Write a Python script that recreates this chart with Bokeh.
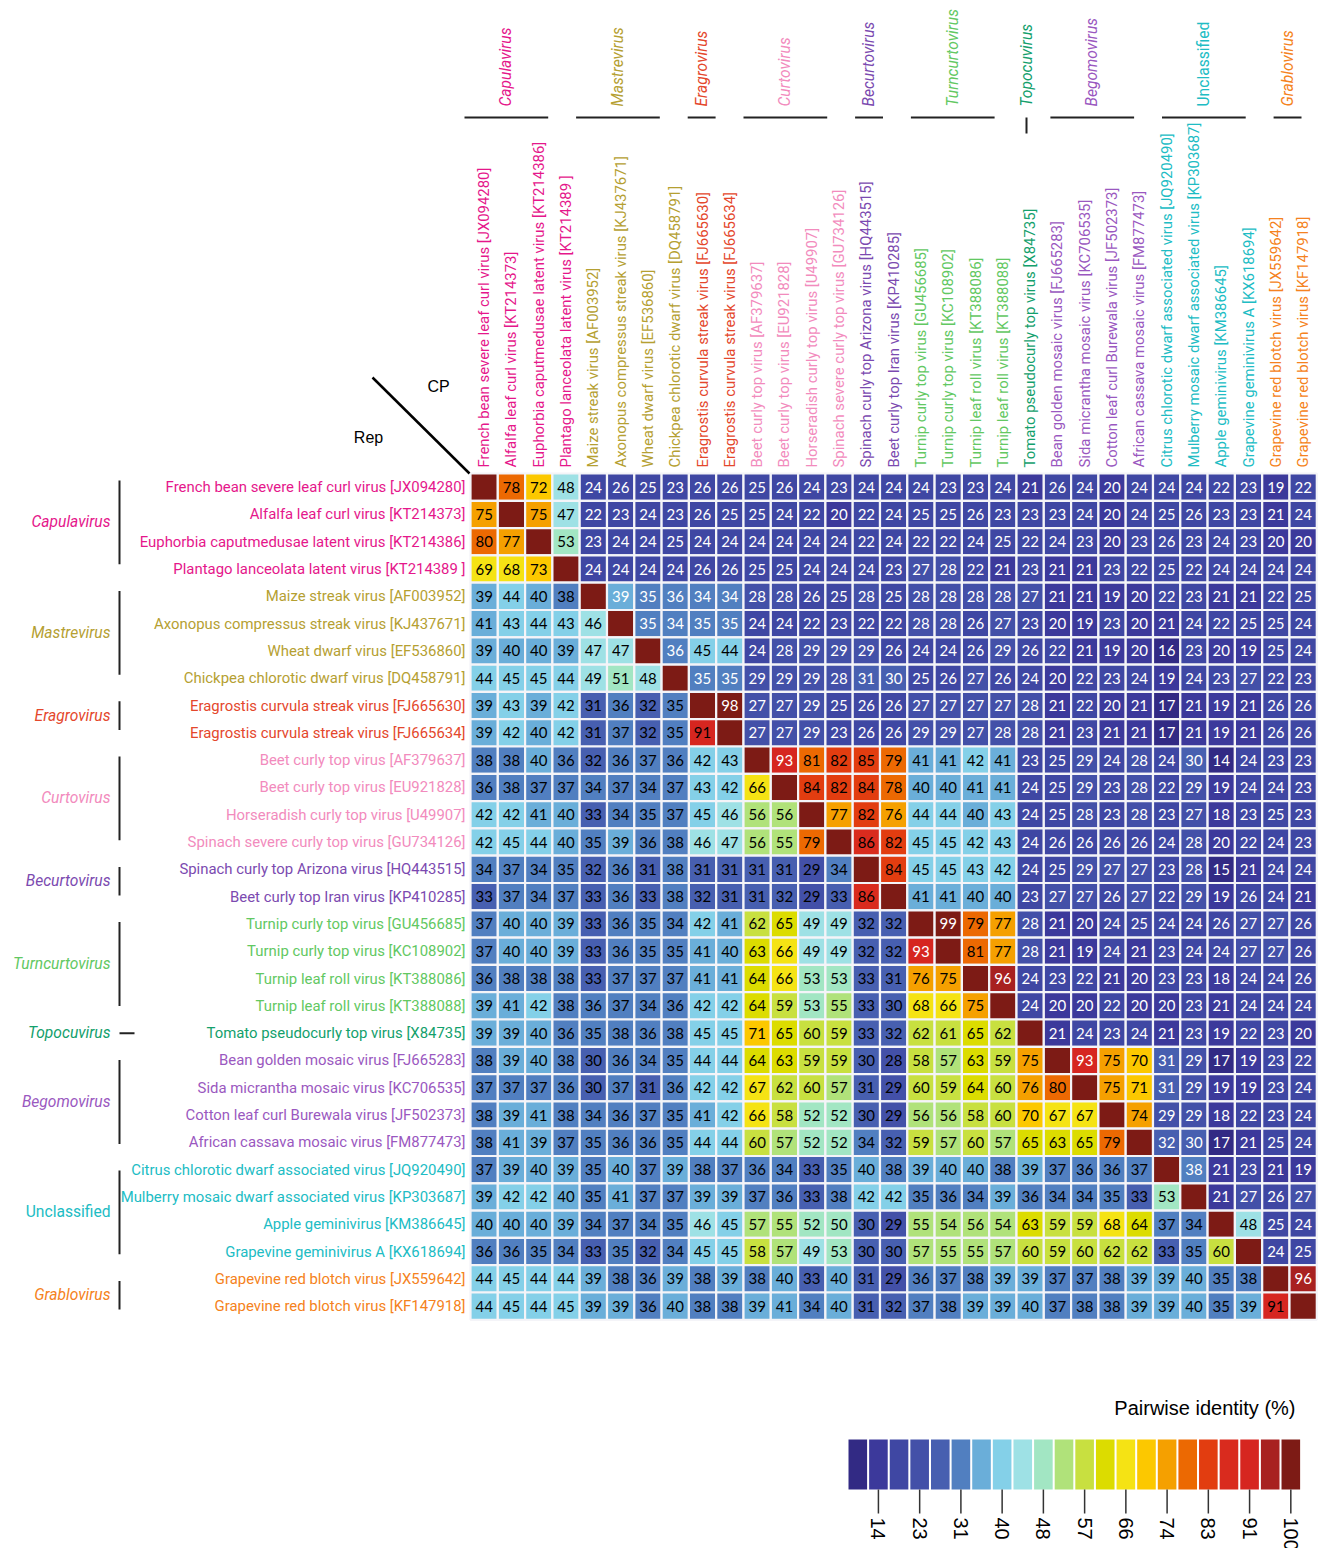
import math
from bokeh.plotting import figure
from bokeh.models import Range1d, ColumnDataSource
from bokeh.transform import linear_cmap
from bokeh.core.properties import value
from bokeh.embed import file_html
from bokeh.resources import INLINE

# ---------------- data ----------------
VIRUSES = [
    "French bean severe leaf curl virus [JX094280]",
    "Alfalfa leaf curl virus [KT214373]",
    "Euphorbia caputmedusae latent virus [KT214386]",
    "Plantago lanceolata latent virus [KT214389 ]",
    "Maize streak virus [AF003952]",
    "Axonopus compressus streak virus [KJ437671]",
    "Wheat dwarf virus [EF536860]",
    "Chickpea chlorotic dwarf virus [DQ458791]",
    "Eragrostis curvula streak virus [FJ665630]",
    "Eragrostis curvula streak virus [FJ665634]",
    "Beet curly top virus [AF379637]",
    "Beet curly top virus [EU921828]",
    "Horseradish curly top virus [U49907]",
    "Spinach severe curly top virus [GU734126]",
    "Spinach curly top Arizona virus [HQ443515]",
    "Beet curly top Iran virus [KP410285]",
    "Turnip curly top virus [GU456685]",
    "Turnip curly top virus [KC108902]",
    "Turnip leaf roll virus [KT388086]",
    "Turnip leaf roll virus [KT388088]",
    "Tomato pseudocurly top virus [X84735]",
    "Bean golden mosaic virus [FJ665283]",
    "Sida micrantha mosaic virus [KC706535]",
    "Cotton leaf curl Burewala virus [JF502373]",
    "African cassava mosaic virus [FM877473]",
    "Citrus chlorotic dwarf associated virus [JQ920490]",
    "Mulberry mosaic dwarf associated virus [KP303687]",
    "Apple geminivirus [KM386645]",
    "Grapevine geminivirus A [KX618694]",
    "Grapevine red blotch virus [JX559642]",
    "Grapevine red blotch virus [KF147918]",
]

GENERA = ["Capulavirus", "Mastrevirus", "Eragrovirus", "Curtovirus", "Becurtovirus",
          "Turncurtovirus", "Topocuvirus", "Begomovirus", "Unclassified", "Grablovirus"]
GENUS_FIRST = [0, 4, 8, 10, 14, 16, 20, 21, 25, 29]
GENUS_LAST = [3, 7, 9, 13, 15, 19, 20, 24, 28, 30]
GENUS_COLORS = ["#e5178b", "#b5a032", "#e4472c", "#f28bbd", "#7b4ab0",
                "#62c862", "#13a06c", "#9a58c0", "#20bcc4", "#f58220"]
GENUS_STYLE = ["italic"] * 8 + ["normal", "italic"]

# lower triangle = Rep identity, upper triangle = CP identity, diagonal = 100
IDENTITY = [
    [100, 78, 72, 48, 24, 26, 25, 23, 26, 26, 25, 26, 24, 23, 24, 24, 24, 23, 23, 24, 21, 26, 24, 20, 24, 24, 24, 22, 23, 19, 22],
    [75, 100, 75, 47, 22, 23, 24, 23, 26, 25, 25, 24, 22, 20, 22, 24, 25, 25, 26, 23, 23, 23, 24, 20, 24, 25, 26, 23, 23, 21, 24],
    [80, 77, 100, 53, 23, 24, 24, 25, 24, 24, 24, 24, 24, 24, 22, 24, 22, 22, 24, 25, 22, 24, 23, 20, 23, 26, 23, 24, 23, 20, 20],
    [69, 68, 73, 100, 24, 24, 24, 24, 26, 26, 25, 25, 24, 24, 24, 23, 27, 28, 22, 21, 23, 21, 21, 23, 22, 25, 22, 24, 24, 24, 24],
    [39, 44, 40, 38, 100, 39, 35, 36, 34, 34, 28, 28, 26, 25, 28, 25, 28, 28, 28, 28, 27, 21, 21, 19, 20, 22, 23, 21, 21, 22, 25],
    [41, 43, 44, 43, 46, 100, 35, 34, 35, 35, 24, 24, 22, 23, 22, 22, 28, 28, 26, 27, 23, 20, 19, 23, 20, 21, 24, 22, 25, 25, 24],
    [39, 40, 40, 39, 47, 47, 100, 36, 45, 44, 24, 28, 29, 29, 29, 26, 24, 24, 26, 29, 26, 22, 21, 19, 20, 16, 23, 20, 19, 25, 24],
    [44, 45, 45, 44, 49, 51, 48, 100, 35, 35, 29, 29, 29, 28, 31, 30, 25, 26, 27, 26, 24, 20, 22, 23, 24, 19, 24, 23, 27, 22, 23],
    [39, 43, 39, 42, 31, 36, 32, 35, 100, 98, 27, 27, 29, 25, 26, 26, 27, 27, 27, 27, 28, 21, 22, 20, 21, 17, 21, 19, 21, 26, 26],
    [39, 42, 40, 42, 31, 37, 32, 35, 91, 100, 27, 27, 29, 23, 26, 26, 29, 29, 27, 28, 28, 21, 23, 21, 21, 17, 21, 19, 21, 26, 26],
    [38, 38, 40, 36, 32, 36, 37, 36, 42, 43, 100, 93, 81, 82, 85, 79, 41, 41, 42, 41, 23, 25, 29, 24, 28, 24, 30, 14, 24, 23, 23],
    [36, 38, 37, 37, 34, 37, 34, 37, 43, 42, 66, 100, 84, 82, 84, 78, 40, 40, 41, 41, 24, 25, 29, 23, 28, 22, 29, 19, 24, 24, 23],
    [42, 42, 41, 40, 33, 34, 35, 37, 45, 46, 56, 56, 100, 77, 82, 76, 44, 44, 40, 43, 24, 25, 28, 23, 28, 23, 27, 18, 23, 25, 23],
    [42, 45, 44, 40, 35, 39, 36, 38, 46, 47, 56, 55, 79, 100, 86, 82, 45, 45, 42, 43, 24, 26, 26, 26, 26, 24, 28, 20, 22, 24, 23],
    [34, 37, 34, 35, 32, 36, 31, 38, 31, 31, 31, 31, 29, 34, 100, 84, 45, 45, 43, 42, 24, 25, 29, 27, 27, 23, 28, 15, 21, 24, 24],
    [33, 37, 34, 37, 33, 36, 33, 38, 32, 31, 31, 32, 29, 33, 86, 100, 41, 41, 40, 40, 23, 27, 27, 26, 27, 22, 29, 19, 26, 24, 21],
    [37, 40, 40, 39, 33, 36, 35, 34, 42, 41, 62, 65, 49, 49, 32, 32, 100, 99, 79, 77, 28, 21, 20, 24, 25, 24, 24, 26, 27, 27, 26],
    [37, 40, 40, 39, 33, 36, 35, 35, 41, 40, 63, 66, 49, 49, 32, 32, 93, 100, 81, 77, 28, 21, 19, 24, 21, 23, 24, 24, 27, 27, 26],
    [36, 38, 38, 38, 33, 37, 37, 37, 41, 41, 64, 66, 53, 53, 33, 31, 76, 75, 100, 96, 24, 23, 22, 21, 20, 23, 23, 18, 24, 24, 26],
    [39, 41, 42, 38, 36, 37, 34, 36, 42, 42, 64, 59, 53, 55, 33, 30, 68, 66, 75, 100, 24, 20, 20, 22, 20, 20, 23, 21, 24, 24, 24],
    [39, 39, 40, 36, 35, 38, 36, 38, 45, 45, 71, 65, 60, 59, 33, 32, 62, 61, 65, 62, 100, 21, 24, 23, 24, 21, 23, 19, 22, 23, 20],
    [38, 39, 40, 38, 30, 36, 34, 35, 44, 44, 64, 63, 59, 59, 30, 28, 58, 57, 63, 59, 75, 100, 93, 75, 70, 31, 29, 17, 19, 23, 22],
    [37, 37, 37, 36, 30, 37, 31, 36, 42, 42, 67, 62, 60, 57, 31, 29, 60, 59, 64, 60, 76, 80, 100, 75, 71, 31, 29, 19, 19, 23, 24],
    [38, 39, 41, 38, 34, 36, 37, 35, 41, 42, 66, 58, 52, 52, 30, 29, 56, 56, 58, 60, 70, 67, 67, 100, 74, 29, 29, 18, 22, 23, 24],
    [38, 41, 39, 37, 35, 36, 36, 35, 44, 44, 60, 57, 52, 52, 34, 32, 59, 57, 60, 57, 65, 63, 65, 79, 100, 32, 30, 17, 21, 25, 24],
    [37, 39, 40, 39, 35, 40, 37, 39, 38, 37, 36, 34, 33, 35, 40, 38, 39, 40, 40, 38, 39, 37, 36, 36, 37, 100, 38, 21, 23, 21, 19],
    [39, 42, 42, 40, 35, 41, 37, 37, 39, 39, 37, 36, 33, 38, 42, 42, 35, 36, 34, 39, 36, 34, 34, 35, 33, 53, 100, 21, 27, 26, 27],
    [40, 40, 40, 39, 34, 37, 34, 35, 46, 45, 57, 55, 52, 50, 30, 29, 55, 54, 56, 54, 63, 59, 59, 68, 64, 37, 34, 100, 48, 25, 24],
    [36, 36, 35, 34, 33, 35, 32, 34, 45, 45, 58, 57, 49, 53, 30, 30, 57, 55, 55, 57, 60, 59, 60, 62, 62, 33, 35, 60, 100, 24, 25],
    [44, 45, 44, 44, 39, 38, 36, 39, 38, 39, 38, 40, 33, 40, 31, 29, 36, 37, 38, 39, 39, 37, 37, 38, 39, 39, 40, 35, 38, 100, 96],
    [44, 45, 44, 45, 39, 39, 36, 40, 38, 38, 39, 41, 34, 40, 31, 32, 37, 38, 39, 39, 40, 37, 38, 38, 39, 39, 40, 35, 39, 91, 100],
]

LEGEND_TICKS = [14, 23, 31, 40, 48, 57, 66, 74, 83, 91, 100]
PALETTE = ["#322a84", "#3c399b", "#3f47a3", "#4350a8", "#475fb0", "#517fc0", "#6aaed9",
           "#84d0e8", "#9ee1e5", "#a2e6c3", "#b0e27a", "#c8e040", "#dcdc00", "#f5e314",
           "#fcc800", "#f5a000", "#ec6902", "#e23d10", "#d92b1e", "#d62620", "#a82120", "#7d1b15"]
CMAP_LOW, CMAP_HIGH = 14, 102

# ---------------- layout ----------------
W, H = 1320, 1548
CELL = 27.3
MX, MY = 470.0, 473.0
NARROW = value("Roboto")
ARIAL = value("Liberation Sans")
NUMF = value("Lato")
LBL_SIZE = "14.9px"
GEN_SIZE = "15.6px"


def X(px):
    return (px - MX) / CELL


def Y(py):
    return (py - MY) / CELL


n = len(VIRUSES)
genus_of = [0] * n
for g, (a, b) in enumerate(zip(GENUS_FIRST, GENUS_LAST)):
    for k in range(a, b + 1):
        genus_of[k] = g
label_colors = [GENUS_COLORS[genus_of[k]] for k in range(n)]

p = figure(width=W, height=H, x_range=Range1d(X(0), X(W)), y_range=Range1d(Y(H), Y(0)),
           output_backend="svg", toolbar_location=None, x_axis_location=None, y_axis_location=None,
           min_border=0, outline_line_color=None)
p.grid.visible = False
p.background_fill_color = "white"
p.border_fill_color = "white"

# cells
xs, ys, vs, txt, tcol = [], [], [], [], []
for i in range(n):
    for j in range(n):
        v = IDENTITY[i][j]
        xs.append(j + 0.5)
        ys.append(i + 0.5)
        vs.append(v)
        txt.append("" if i == j else str(v))
        white = v >= 92 or (j > i and v < 40)
        tcol.append("white" if white else "black")
src = ColumnDataSource(dict(x=xs, y=ys, v=vs, t=txt, tc=tcol))
p.rect(x="x", y="y", width=1, height=1, source=src,
       fill_color=linear_cmap("v", PALETTE, CMAP_LOW, CMAP_HIGH),
       line_color="#f4f4f8", line_width=2.2)
p.text(x="x", y="y", text="t", text_color="tc", source=src, text_align="center",
       text_baseline="middle", text_font=NUMF, text_font_size="15px")

# row labels
p.text(x=[X(465)] * n, y=[i + 0.5 for i in range(n)], text=VIRUSES, text_color=label_colors,
       text_align="right", text_baseline="middle", text_font=NARROW, text_font_size=LBL_SIZE)
# column labels
p.text(x=[j + 0.5 for j in range(n)], y=[Y(467)] * n, text=VIRUSES, text_color=label_colors,
       angle=math.pi / 2, text_align="left", text_baseline="middle",
       text_font=NARROW, text_font_size=LBL_SIZE)

# genus annotations (top)
for g, name in enumerate(GENERA):
    a, b = GENUS_FIRST[g], GENUS_LAST[g]
    if a == b:
        cx = X(1026)
        p.segment(x0=[cx], y0=[Y(117)], x1=[cx], y1=[Y(133)], line_color="#222222", line_width=2)
    else:
        x0, x1 = 464 + 27.9 * a, 464 + 27.9 * b
        cx = X((x0 + x1) / 2)
        p.segment(x0=[X(x0)], y0=[Y(117)], x1=[X(x1)], y1=[Y(117)], line_color="#222222", line_width=2)
    p.text(x=[cx], y=[Y(106)], text=[name], text_color=GENUS_COLORS[g], angle=math.pi / 2,
           text_align="left", text_baseline="middle", text_font=NARROW, text_font_size=GEN_SIZE,
           text_font_style=GENUS_STYLE[g])

# genus annotations (left)
for g, name in enumerate(GENERA):
    a, b = GENUS_FIRST[g], GENUS_LAST[g]
    if a == b:
        cy = a + 0.5
        p.segment(x0=[X(119)], y0=[cy], x1=[X(134)], y1=[cy], line_color="#222222", line_width=2)
    else:
        y0, y1 = 480 + 27.6 * a, 480 + 27.6 * b + 1
        cy = Y((y0 + y1) / 2)
        p.segment(x0=[X(119)], y0=[Y(y0)], x1=[X(119)], y1=[Y(y1)], line_color="#222222", line_width=2)
    p.text(x=[X(110)], y=[cy], text=[name], text_color=GENUS_COLORS[g], text_align="right",
           text_baseline="middle", text_font=NARROW, text_font_size=GEN_SIZE,
           text_font_style=GENUS_STYLE[g])

# corner
p.segment(x0=[X(372)], y0=[Y(377)], x1=[X(469)], y1=[Y(473)], line_color="black", line_width=2.5)
p.text(x=[X(438)], y=[Y(386)], text=["CP"], text_align="center", text_baseline="middle",
       text_font=ARIAL, text_font_size="16px", text_color="black")
p.text(x=[X(368)], y=[Y(437)], text=["Rep"], text_align="center", text_baseline="middle",
       text_font=ARIAL, text_font_size="16px", text_color="black")

# legend
LX, LPITCH, LW = 848.0, 20.62, 18.6
LTOP, LBOT = 1439.0, 1489.0
sw_x = [X(LX + LPITCH * k + LW / 2) for k in range(len(PALETTE))]
p.rect(x=sw_x, y=[Y((LTOP + LBOT) / 2)] * len(PALETTE), width=LW / CELL, height=(LBOT - LTOP) / CELL,
       fill_color=PALETTE, line_color=None)
tick_x = [sw_x[2 * k + 1] for k in range(len(LEGEND_TICKS))]
p.segment(x0=tick_x, y0=[Y(LBOT)] * len(tick_x), x1=tick_x, y1=[Y(1513)] * len(tick_x),
          line_color="#333333", line_width=1.5)
p.text(x=tick_x, y=[Y(1517)] * len(tick_x), text=[str(t) for t in LEGEND_TICKS], angle=-math.pi / 2,
       text_align="left", text_baseline="middle", text_font=ARIAL, text_font_size="20px",
       text_color="black")
p.text(x=[X(1295)], y=[Y(1407)], text=["Pairwise identity (%)"], text_align="right",
       text_baseline="middle", text_font=ARIAL, text_font_size="20px", text_color="black")

open("out.html", "w").write(file_html(p, INLINE))
